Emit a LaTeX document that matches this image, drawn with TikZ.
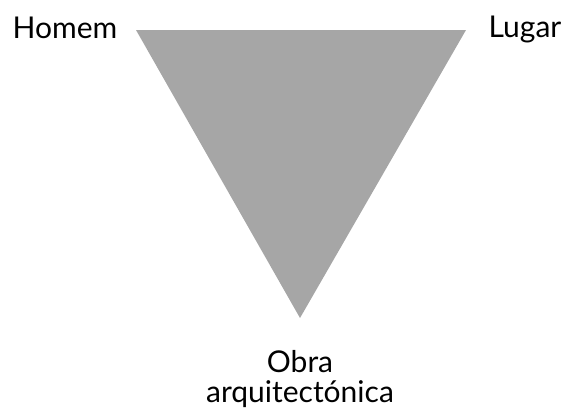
\documentclass[tikz,border=0pt]{standalone}
\usepackage{fontspec}
\setmainfont{Lato}
\definecolor{trigray}{HTML}{A6A6A6}

\begin{document}
\begin{tikzpicture}[x=1pt, y=-1pt, font=\fontsize{30}{30}\selectfont]
  \useasboundingbox (0,0) rectangle (567,418);
  % vértices do triângulo
  \coordinate (T1) at (136,30);
  \coordinate (T2) at (466,30);
  \coordinate (T3) at (300,318);
  \fill[trigray] (T1)--(T2)--(T3)--cycle;

  % rótulos
  \node[anchor=base] (homem) at (65,38) {Homem};
  \node[anchor=base] (lugar) at (525,37) {Lugar};
  \node[anchor=base] (obra) at (300,372) {Obra};
  \node[anchor=base] (arq) at (300,402) {arquitectónica};
\end{tikzpicture}
\end{document}
